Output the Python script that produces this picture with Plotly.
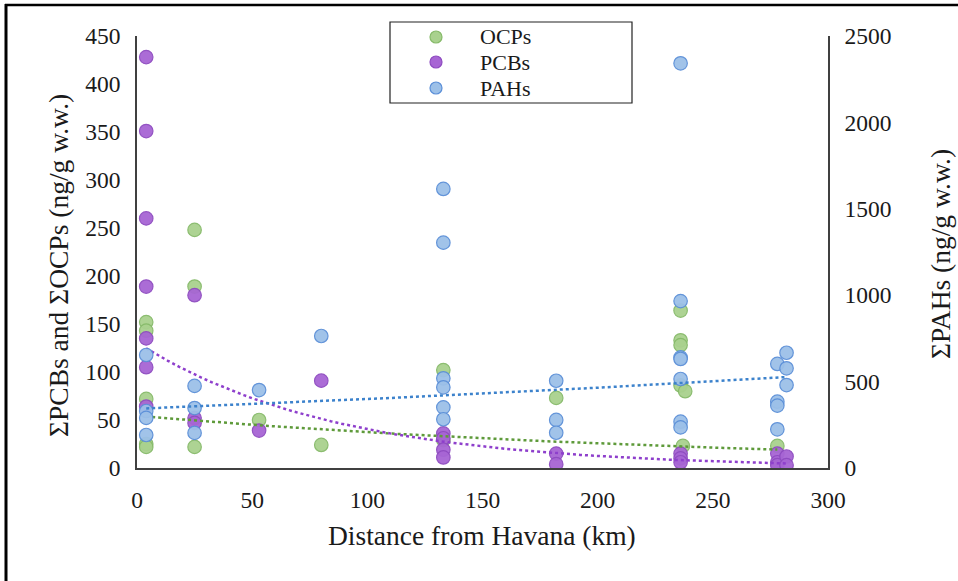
import numpy as np
import plotly.graph_objects as go

# ---- data ----
ocp_x = [4, 4, 4, 4, 4, 25, 25, 25, 53, 80, 133, 133, 182, 236, 236, 236, 236, 238, 237, 278]
ocp_y = [152, 143, 72, 25, 22, 248, 189, 22, 50, 24, 102, 29, 73, 164, 133, 128, 86, 80, 23, 23]

pcb_x = [4, 4, 4, 4, 4, 4, 4, 25, 25, 25, 53, 80, 133, 133, 133, 133, 182, 182, 236, 236, 236, 278, 278, 278, 282, 282]
pcb_y = [428, 351, 260, 189, 135, 105, 64, 180, 52, 47, 39, 91, 36, 31, 19, 11, 15, 4, 15, 10, 6, 15, 6, 3, 12, 3]

pah_x = [4, 4, 4, 4, 25, 25, 25, 53, 80, 133, 133, 133, 133, 133, 133, 182, 182, 182, 236, 236, 236, 236, 236, 236, 236, 278, 278, 278, 278, 282, 282, 282]
pah_y = [654, 330, 290, 191, 475, 347, 203, 451, 764, 1615, 1304, 519, 467, 351, 282, 505, 278, 204, 2342, 966, 640, 631, 515, 268, 235, 602, 384, 361, 224, 667, 577, 480]

# exponential trendlines y = a * exp(b * x), coefficients
trend_ocp = (54.3, -0.00375)
trend_pcb = (130.7, -0.01173)
trend_pah = (342.9, 0.00152)

series_names = ["OCPs", "PCBs", "PAHs"]
x_ticks = [0, 50, 100, 150, 200, 250, 300]
yl_ticks = [0, 50, 100, 150, 200, 250, 300, 350, 400, 450]
yr_ticks = [0, 500, 1000, 1500, 2000, 2500]
x_title = "Distance from Havana (km)"
yl_title = "ΣPCBs and ΣOCPs (ng/g w.w.)"
yr_title = "ΣPAHs (ng/g w.w.)"

FONT = "Liberation Serif"
FILLS = ["#A9D18E", "#A765D4", "#9CC0E8"]
EDGES = ["#86BA69", "#8E4BC0", "#5B8FD8"]
TRENDC = ["#5E9A3A", "#8E3FCC", "#3C82CC"]
TXT = "#1a1a1a"

# plot area in pixels
L, R, T, B = 137, 828, 36, 468
def px(xp): return (xp - L) / (R - L)
def py(yp): return (B - yp) / (B - T)

def trend(xdata, coef):
    xs = np.linspace(min(xdata), max(xdata), 60)
    return xs, coef[0] * np.exp(coef[1] * xs)

fig = go.Figure()
mk = dict(size=13.5, opacity=0.95)
fig.add_trace(go.Scatter(x=ocp_x, y=ocp_y, mode="markers", name=series_names[0],
                         marker=dict(color=FILLS[0], line=dict(color=EDGES[0], width=1.2), **mk)))
fig.add_trace(go.Scatter(x=pcb_x, y=pcb_y, mode="markers", name=series_names[1],
                         marker=dict(color=FILLS[1], line=dict(color=EDGES[1], width=1.2), **mk)))
fig.add_trace(go.Scatter(x=pah_x, y=pah_y, mode="markers", name=series_names[2], yaxis="y2",
                         marker=dict(color=FILLS[2], line=dict(color=EDGES[2], width=1.2), **mk)))

for xd, coef, col, ax in [(ocp_x, trend_ocp, TRENDC[0], "y"),
                          (pcb_x, trend_pcb, TRENDC[1], "y"),
                          (pah_x, trend_pah, TRENDC[2], "y2")]:
    xs, ys = trend(xd, coef)
    fig.add_trace(go.Scatter(x=xs, y=ys, mode="lines", showlegend=False, yaxis=ax,
                             line=dict(color=col, width=2.5, dash="dot")))

tickfont = dict(family=FONT, size=23.5, color=TXT)
titlefont = dict(family=FONT, size=27.5, color=TXT)
axis_common = dict(showgrid=False, zeroline=False, showline=True, linecolor="#404040",
                   linewidth=1.5, ticks="", tickfont=tickfont, ticklabelstandoff=10)

shapes = [
    dict(type="line", xref="paper", yref="paper", x0=px(6), x1=px(6), y0=py(4), y1=py(585),
         line=dict(color="black", width=3)),
    dict(type="line", xref="paper", yref="paper", x0=px(5), x1=px(960), y0=py(5), y1=py(5),
         line=dict(color="black", width=2.5)),
    dict(type="rect", xref="paper", yref="paper", x0=px(390), x1=px(632), y0=py(103), y1=py(22),
         line=dict(color="#222222", width=1.2), fillcolor="white", layer="above"),
]
annotations = [
    dict(xref="paper", yref="paper", x=px(482), y=py(535), text=x_title, showarrow=False,
         xanchor="center", yanchor="middle", font=titlefont),
    dict(xref="paper", yref="paper", x=px(58), y=py(266), text=yl_title, showarrow=False,
         textangle=-90, xanchor="center", yanchor="middle", font=titlefont),
    dict(xref="paper", yref="paper", x=px(940), y=py(254), text=yr_title, showarrow=False,
         textangle=-90, xanchor="center", yanchor="middle", font=titlefont),
]
leg_rows = [37, 62, 88]
for i, name in enumerate(series_names):
    yc = leg_rows[i]
    shapes.append(dict(type="circle", xref="paper", yref="paper",
                       x0=px(436 - 6), x1=px(436 + 6), y0=py(yc + 6), y1=py(yc - 6),
                       fillcolor=FILLS[i], line=dict(color=EDGES[i], width=1.2), layer="above"))
    annotations.append(dict(xref="paper", yref="paper", x=px(478), y=py(yc), text=name,
                            showarrow=False, xanchor="left", yanchor="middle",
                            font=dict(family=FONT, size=22, color=TXT)))

fig.update_layout(
    width=958, height=581,
    margin=dict(l=L, r=958 - R, t=T, b=581 - B),
    paper_bgcolor="white", plot_bgcolor="white",
    font=dict(family=FONT, size=22, color=TXT),
    showlegend=False,
    xaxis=dict(range=[0, 300], tickvals=x_ticks, **axis_common),
    yaxis=dict(range=[0, 450], tickvals=yl_ticks, **axis_common),
    yaxis2=dict(range=[0, 2500], tickvals=yr_ticks, overlaying="y", side="right", **axis_common),
    shapes=shapes,
    annotations=annotations,
)

fig.write_html("out.html")
